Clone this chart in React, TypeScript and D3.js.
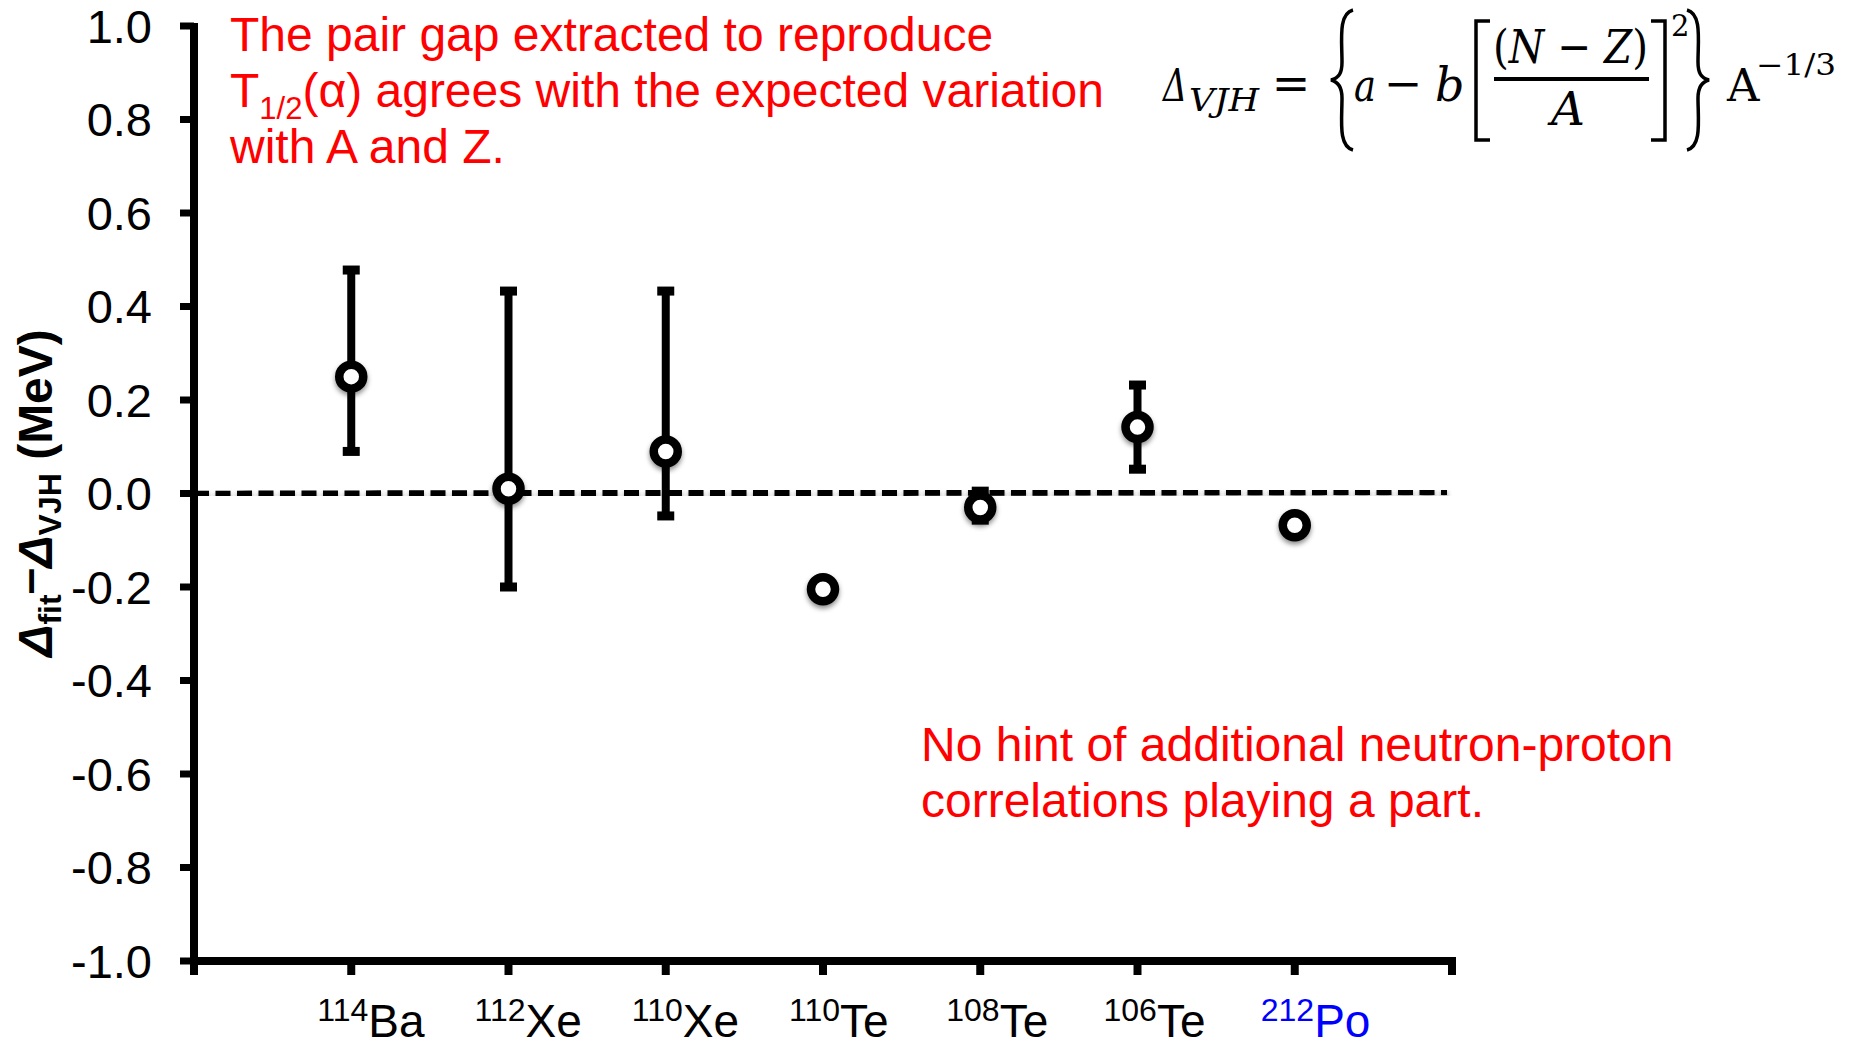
import React from "react";
import * as d3 from "d3";

// ---- data ----
const masses = ["114", "112", "110", "110", "108", "106", "212"];
const elements = ["Ba", "Xe", "Xe", "Te", "Te", "Te", "Po"];
const labelColors = ["#000", "#000", "#000", "#000", "#000", "#000", "#0000FF"];
const values = [0.25, 0.01, 0.09, -0.205, -0.03, 0.142, -0.068];
const errLow: (number | null)[] = [0.09, -0.2, -0.048, null, -0.057, 0.052, null];
const errHigh: (number | null)[] = [0.478, 0.433, 0.433, null, 0.005, 0.232, null];
const yTicks = [1.0, 0.8, 0.6, 0.4, 0.2, 0.0, -0.2, -0.4, -0.6, -0.8, -1.0];
const refLine = [-0.001, 0.004];

const W = 1856;
const H = 1045;
const sans = "'Liberation Sans', Arial, sans-serif";
const serif = "'DejaVu Serif', 'Liberation Serif', serif";

export default function App() {
  const x = d3.scaleLinear().domain([0, 8]).range([194, 1452]);
  const y = d3.scaleLinear().domain([-1, 1]).range([961, 26]);
  const xTicks = d3.range(0, 9);

  return (
    <svg
      width={W}
      height={H}
      style={{ position: "absolute", left: 0, top: 0, background: "#fff" }}
    >
      <defs>
        <filter id="sh" x="-50%" y="-50%" width="200%" height="200%">
          <feDropShadow dx="0" dy="3" stdDeviation="2.5" floodColor="#000" floodOpacity="0.45" />
        </filter>
      </defs>
      <rect width={W} height={H} fill="#fff" />

      {/* dashed reference line */}
      <line
        x1={x(0)}
        x2={x(8) - 5}
        y1={y(refLine[0])}
        y2={y(refLine[1])}
        stroke="#000"
        strokeWidth={6.5}
        strokeDasharray="15 6.5"
        filter="url(#sh)"
      />

      {/* axes */}
      <line x1={x(0)} x2={x(0)} y1={y(1) - 3} y2={y(-1) + 14} stroke="#000" strokeWidth={8} />
      <line x1={x(0) - 4} x2={x(8) + 4} y1={y(-1)} y2={y(-1)} stroke="#000" strokeWidth={8} />
      {yTicks.map((t) => (
        <g key={"yt" + t}>
          <line x1={x(0) - 14} x2={x(0)} y1={y(t)} y2={y(t)} stroke="#000" strokeWidth={7} />
          <text
            x={152}
            y={y(t) + 16.5}
            textAnchor="end"
            fontFamily={sans}
            fontSize={47}
            fill="#000"
          >
            {t.toFixed(1)}
          </text>
        </g>
      ))}
      {xTicks.map((t) => (
        <line key={"xt" + t} x1={x(t)} x2={x(t)} y1={y(-1)} y2={y(-1) + 14} stroke="#000" strokeWidth={8} />
      ))}

      {/* category labels */}
      {elements.map((el, i) => (
        <text
          key={"cl" + i}
          x={x(i + 1) - 34}
          y={1037}
          fontFamily={sans}
          fill={labelColors[i]}
          fontSize={46}
        >
          <tspan fontSize={32} dy={-16}>
            {masses[i]}
          </tspan>
          <tspan dy={16}>{el}</tspan>
        </text>
      ))}

      {/* error bars */}
      {values.map((v, i) =>
        errLow[i] !== null && errHigh[i] !== null ? (
          <g key={"eb" + i}>
            <line
              x1={x(i + 1)}
              x2={x(i + 1)}
              y1={y(errHigh[i] as number)}
              y2={y(errLow[i] as number)}
              stroke="#000"
              strokeWidth={8}
            />
            <rect x={x(i + 1) - 8.5} y={y(errHigh[i] as number) - 4.5} width={17} height={9} fill="#000" />
            <rect x={x(i + 1) - 8.5} y={y(errLow[i] as number) - 4.5} width={17} height={9} fill="#000" />
          </g>
        ) : null
      )}

      {/* points */}
      {values.map((v, i) => (
        <circle
          key={"pt" + i}
          cx={x(i + 1)}
          cy={y(v)}
          r={12}
          fill="#fff"
          stroke="#000"
          strokeWidth={8.5}
          filter="url(#sh)"
        />
      ))}

      {/* y axis label */}
      <text
        transform="translate(52,493) rotate(-90)"
        textAnchor="middle"
        fontFamily={sans}
        fontWeight="bold"
        fontSize={48}
        fill="#000"
      >
        <tspan fontStyle="italic">Δ</tspan>
        <tspan fontSize={32} dy={9}>fit</tspan>
        <tspan dy={-16}>–</tspan>
        <tspan dy={7} fontStyle="italic">Δ</tspan>
        <tspan fontSize={32} dy={9}>VJH</tspan>
        <tspan dy={-9}> (MeV)</tspan>
      </text>

      {/* red annotations */}
      <g fontFamily={sans} fontSize={48} fill="#FF0000">
        <text x={230} y={51}>The pair gap extracted to reproduce</text>
        <text x={230} y={107}>
          T<tspan fontSize={31} dy={12}>1/2</tspan>
          <tspan dy={-12}>(α) agrees with the expected variation</tspan>
        </text>
        <text x={230} y={163}>with A and Z.</text>
        <text x={921} y={761}>No hint of additional neutron-proton</text>
        <text x={921} y={817}>correlations playing a part.</text>
      </g>

      {/* formula */}
      <g fontFamily={serif} fill="#000">
        <text x={1163} y={101} fontSize={44} fontStyle="italic" textLength={24} lengthAdjust="spacingAndGlyphs">Δ</text>
        <text x={1189} y={111} fontSize={31} fontStyle="italic" textLength={70} lengthAdjust="spacingAndGlyphs">VJH</text>
        <text x={1291} y={99} fontSize={46} textAnchor="middle">=</text>
        <path
          d="M1353 10 C1338 14,1342 40,1342 62 C1342 73,1339 78,1331 80 C1339 82,1342 88,1342 98 C1342 120,1338 146,1353 150"
          fill="none"
          stroke="#000"
          strokeWidth={3.5}
        />
        <text x={1354} y={101} fontSize={44} fontStyle="italic" textLength={22} lengthAdjust="spacingAndGlyphs">a</text>
        <text x={1403} y={99} fontSize={46} textAnchor="middle">−</text>
        <text x={1435} y={101} fontSize={46} fontStyle="italic">b</text>
        <path d="M1490 21 H1476 V140 H1490" fill="none" stroke="#000" strokeWidth={3.5} />
        <text x={1493} y={63} fontSize={47} textLength={155} lengthAdjust="spacingAndGlyphs">
          (<tspan fontStyle="italic">N</tspan> − <tspan fontStyle="italic">Z</tspan>)
        </text>
        <line x1={1494} x2={1649} y1={79} y2={79} stroke="#000" strokeWidth={4} />
        <text x={1568} y={125} fontSize={47} fontStyle="italic" textAnchor="middle">A</text>
        <path d="M1651 21 H1665 V140 H1651" fill="none" stroke="#000" strokeWidth={3.5} />
        <text x={1671} y={36} fontSize={29}>2</text>
        <path
          d="M1687 10 C1702 14,1698 40,1698 62 C1698 73,1701 78,1709 80 C1701 82,1698 88,1698 98 C1698 120,1702 146,1687 150"
          fill="none"
          stroke="#000"
          strokeWidth={3.5}
        />
        <text x={1727} y={101} fontSize={45}>A</text>
        <text x={1756} y={75} fontSize={29} textLength={80} lengthAdjust="spacingAndGlyphs">−1/3</text>
      </g>
    </svg>
  );
}
